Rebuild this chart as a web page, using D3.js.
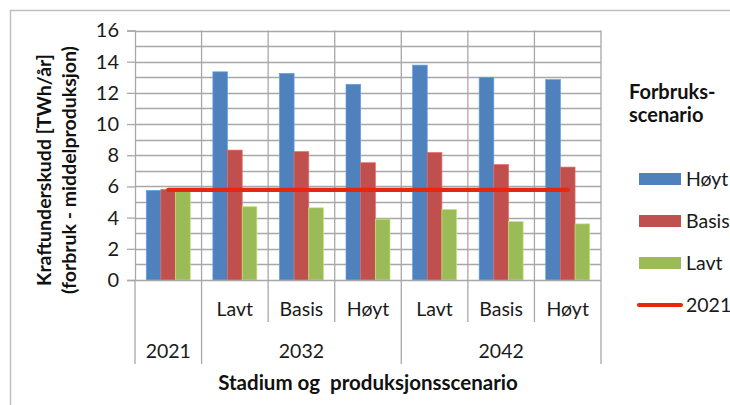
<!DOCTYPE html>
<html>
<head>
<meta charset="utf-8">
<script src="https://cdn.jsdelivr.net/npm/d3@7"></script>
<style>
  html, body { margin: 0; padding: 0; background: #fff; }
  svg { display: block; font-family: Lato, "Open Sans", sans-serif; }
</style>
</head>
<body>
<svg id="chart" width="730" height="405"></svg>
<script>
// ---- data ----
const categories = ["2021", "2032 Lavt", "2032 Basis", "2032 Høyt", "2042 Lavt", "2042 Basis", "2042 Høyt"];
const scenarioLabels = ["", "Lavt", "Basis", "Høyt", "Lavt", "Basis", "Høyt"];
const stages = [
  { label: "2021", span: 1 },
  { label: "2032", span: 3 },
  { label: "2042", span: 3 }
];
const seriesNames = ["Høyt", "Basis", "Lavt"];
const hoytValues  = [5.75, 13.35, 13.25, 12.55, 13.78, 13.0, 12.85];
const basisValues = [5.8, 8.33, 8.23, 7.52, 8.17, 7.4, 7.24];
const lavtValues  = [5.7, 4.7, 4.63, 3.9, 4.52, 3.75, 3.6];
const line2021Values = [5.78, 5.78, 5.78, 5.78, 5.78, 5.78, 5.78];
const yTicks = [0, 2, 4, 6, 8, 10, 12, 14, 16];
const colors = { "Høyt": "#4f81bd", "Basis": "#c0504d", "Lavt": "#9bbb59", "2021": "#e8260d" };

const seriesValues = { "Høyt": hoytValues, "Basis": basisValues, "Lavt": lavtValues };

// ---- layout ----
const svg = d3.select("#chart");
const plot = { left: 135, right: 601, top: 30.5, bottom: 280 };
const gridColor = "#a8a8a8";
const labelSize = 19.5;

// outer frame
svg.append("path")
  .attr("d", "M10.5,420 V10.5 H740")
  .attr("fill", "none").attr("stroke", "#bfbfbf").attr("stroke-width", 1.5);

const x = d3.scaleBand().domain(categories).range([plot.left, plot.right]).padding(0);
const xInner = d3.scaleBand().domain(seriesNames).range([0, x.bandwidth()]).paddingInner(0).paddingOuter(0.77);
const y = d3.scaleLinear().domain([0, 16]).range([plot.bottom, plot.top]);

// horizontal gridlines (every unit)
svg.append("g").selectAll("line").data(d3.range(1, 17))
  .join("line")
  .attr("x1", plot.left).attr("x2", plot.right)
  .attr("y1", d => Math.round(y(d)) + 0.5).attr("y2", d => Math.round(y(d)) + 0.5)
  .attr("stroke", gridColor).attr("stroke-width", 1.3);

// vertical gridlines at category boundaries
const boundaries = categories.map(c => x(c)).concat([plot.right]);
svg.append("g").selectAll("line").data(boundaries.slice(1))
  .join("line")
  .attr("x1", d => d).attr("x2", d => d)
  .attr("y1", plot.top).attr("y2", plot.bottom)
  .attr("stroke", gridColor).attr("stroke-width", 1.3);

// bars
const barData = [];
categories.forEach((c, i) => {
  seriesNames.forEach(s => barData.push({ cat: c, series: s, value: seriesValues[s][i] }));
});
svg.append("g").selectAll("rect").data(barData)
  .join("rect")
  .attr("x", d => x(d.cat) + xInner(d.series))
  .attr("y", d => y(d.value))
  .attr("width", xInner.bandwidth())
  .attr("height", d => y(0) - y(d.value))
  .attr("fill", d => colors[d.series])
  .attr("stroke", d => d3.color(colors[d.series]).brighter(0.6))
  .attr("stroke-width", 0.7);

// 2021 line
const line = d3.line()
  .x((d, i) => x(categories[i]) + x.bandwidth() / 2)
  .y(d => y(d));
svg.append("path")
  .datum(line2021Values)
  .attr("d", line)
  .attr("fill", "none")
  .attr("stroke", colors["2021"])
  .attr("stroke-width", 4.2)
  .attr("stroke-linecap", "round");

// y axis
const yAxis = d3.axisLeft(y).tickValues(yTicks).tickSize(8).tickPadding(8);
const gy = svg.append("g").attr("transform", `translate(${plot.left},0)`).call(yAxis);
gy.select(".domain").attr("stroke", gridColor).attr("stroke-width", 1.3);
gy.selectAll(".tick line").attr("stroke", gridColor).attr("stroke-width", 1.3);
gy.selectAll(".tick text").attr("font-size", 20).attr("fill", "#1a1a1a").attr("font-family", "Lato, sans-serif");

// x axis line
svg.append("line")
  .attr("x1", plot.left).attr("x2", plot.right)
  .attr("y1", plot.bottom + 0.5).attr("y2", plot.bottom + 0.5)
  .attr("stroke", gridColor).attr("stroke-width", 1.3);

// category divider lines below axis
let acc = 0;
const stageBounds = [0];
stages.forEach(s => { acc += s.span; stageBounds.push(acc); });
boundaries.forEach((bx, i) => {
  const full = stageBounds.includes(i);
  svg.append("line")
    .attr("x1", bx).attr("x2", bx)
    .attr("y1", plot.bottom).attr("y2", full ? 364 : 322)
    .attr("stroke", gridColor).attr("stroke-width", 1.3);
});

// scenario labels
svg.append("g").selectAll("text").data(categories)
  .join("text")
  .attr("x", d => x(d) + x.bandwidth() / 2)
  .attr("y", 309)
  .attr("dy", "0.35em")
  .attr("text-anchor", "middle")
  .attr("font-size", labelSize)
  .attr("fill", "#1a1a1a")
  .text((d, i) => scenarioLabels[i]);

// stage labels
svg.append("g").selectAll("text").data(stages)
  .join("text")
  .attr("x", (d, i) => (boundaries[stageBounds[i]] + boundaries[stageBounds[i + 1]]) / 2)
  .attr("y", 351)
  .attr("dy", "0.35em")
  .attr("text-anchor", "middle")
  .attr("font-size", labelSize)
  .attr("fill", "#1a1a1a")
  .text(d => d.label);

// x axis title
svg.append("text")
  .attr("x", (plot.left + plot.right) / 2)
  .attr("y", 383)
  .attr("dy", "0.35em")
  .attr("text-anchor", "middle")
  .attr("font-size", 20.5)
  .attr("font-weight", "bold")
  .attr("fill", "#111")
  .attr("xml:space", "preserve")
  .text("Stadium og  produksjonsscenario");

// y axis title
const yt = svg.append("text")
  .attr("transform", "translate(0,170) rotate(-90)")
  .attr("text-anchor", "middle")
  .attr("font-size", 19.5)
  .attr("font-weight", "bold")
  .attr("fill", "#111");
yt.append("tspan").attr("x", 0).attr("y", 44).attr("dy", "0.35em").text("Kraftunderskudd [TWh/år]");
yt.append("tspan").attr("x", 0).attr("y", 69).attr("dy", "0.35em").text("(forbruk - middelproduksjon)");

// legend
const lg = svg.append("g");
lg.append("text").attr("x", 629).attr("y", 92).attr("dy", "0.35em")
  .attr("font-size", 20).attr("font-weight", "bold").attr("fill", "#111").text("Forbruks-");
lg.append("text").attr("x", 629).attr("y", 115).attr("dy", "0.35em")
  .attr("font-size", 20).attr("font-weight", "bold").attr("fill", "#111").text("scenario");

const legendItems = seriesNames.concat(["2021"]);
const legendY = [179, 221, 263, 305];
legendItems.forEach((name, i) => {
  const cy = legendY[i];
  if (name === "2021") {
    lg.append("line").attr("x1", 639).attr("x2", 681).attr("y1", cy).attr("y2", cy)
      .attr("stroke", colors[name]).attr("stroke-width", 4.2).attr("stroke-linecap", "round");
  } else {
    lg.append("rect").attr("x", 639).attr("y", cy - 6).attr("width", 42).attr("height", 12)
      .attr("fill", colors[name]);
  }
  lg.append("text").attr("x", 686).attr("y", cy).attr("dy", "0.35em")
    .attr("font-size", labelSize).attr("fill", "#1a1a1a").text(name);
});
</script>
</body>
</html>
